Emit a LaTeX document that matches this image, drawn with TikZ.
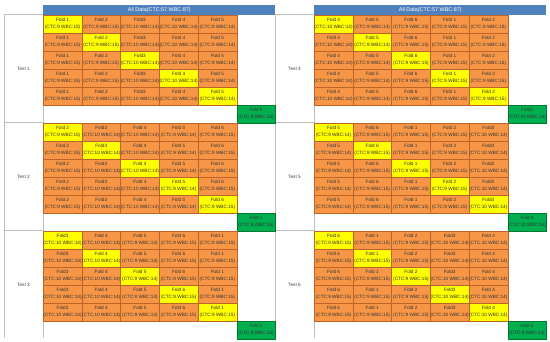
\documentclass[tikz,border=0pt]{standalone}
\usepackage{fontspec}
\setmainfont{Liberation Sans}
\usepackage{tikz}

\definecolor{foldorange}{RGB}{247,150,70}
\definecolor{foldedge}{RGB}{190,100,40}
\definecolor{foldyellow}{RGB}{255,255,0}
\definecolor{foldgreen}{RGB}{0,176,80}
\definecolor{greenedge}{RGB}{0,120,50}
\definecolor{headblue}{RGB}{79,129,189}
\definecolor{framegray}{RGB}{190,190,190}

\newcommand{\foldlbl}[1]{\ifcase#1\or Fold 1\or Fold 2\or Fold3\or Fold 4\or Fold 5\or Fold 6\fi}
\newcommand{\foldcnt}[1]{\ifcase#1\or (CTC:9 WBC:15)\or (CTC:9 WBC:15)\or (CTC:10 WBC:14)\or (CTC:10 WBC:14)\or (CTC:9 WBC:14)\or (CTC:9 WBC:15)\fi}

\tikzset{
  foldcell/.style={draw=foldedge,line width=0.4pt,anchor=north west,inner sep=0pt,
    minimum width=38.7pt,minimum height=18pt,align=center,text=black!80,
    font=\fontsize{4.7}{6.6}\selectfont},
  testcell/.style={foldcell,fill=foldgreen,draw=greenedge},
  headbar/.style={fill=headblue,anchor=north west,inner sep=0pt,minimum width=232.2pt,
    minimum height=10pt,text=white,font=\fontsize{5.4}{6}\selectfont},
  testlbl/.style={text=black!75,font=\fontsize{4.7}{6}\selectfont},
  frameline/.style={draw=framegray,line width=0.5pt}
}

\begin{document}
\begin{tikzpicture}[x=1pt,y=-1pt]
\useasboundingbox (0,0) rectangle (550,342);

% headers
\node[headbar] (hd-left) at (43,4.7) {All Data(CTC:57 WBC:87)};
\node[headbar] (hd-right) at (314,4.7) {All Data(CTC:57 WBC:87)};

% grey frame of the test columns
\foreach \px in {0,271} {
  \draw[frameline] (4+\px,14.7) -- (4+\px,338);
  \draw[frameline] (43+\px,14.7) -- (43+\px,338);
  \foreach \b in {0,1,2}
    \draw[frameline] (4+\px,14.7+108*\b) -- (43+\px,14.7+108*\b);
}

\foreach \t in {1,...,6} {
  \pgfmathsetmacro\px{\t>3 ? 271 : 0}
  \pgfmathsetmacro\ytop{14.7+108*mod(\t-1,3)}
  \node[testlbl] (t\t-label) at (23.5+\px,\ytop+54) {Test \t};
  \foreach \row in {1,...,5} {
    \foreach \col in {1,...,5} {
      \pgfmathtruncatemacro\fd{mod(\t+\col-2,6)+1}
      \pgfmathsetmacro\cellfill{ifthenelse(\row==\col,"foldyellow","foldorange")}
      \node[foldcell,fill=\cellfill] (t\t-r\row-c\col) at (43+\px+38.7*\col-38.7,\ytop+18*\row-18)
        {\foldlbl{\fd}\\\foldcnt{\fd}};
    }
  }
  \pgfmathtruncatemacro\gd{mod(\t+4,6)+1}
  \node[testcell] (t\t-test) at (43+\px+38.7*5,\ytop+90) {\foldlbl{\gd}\\\foldcnt{\gd}};
}
\end{tikzpicture}
\end{document}
